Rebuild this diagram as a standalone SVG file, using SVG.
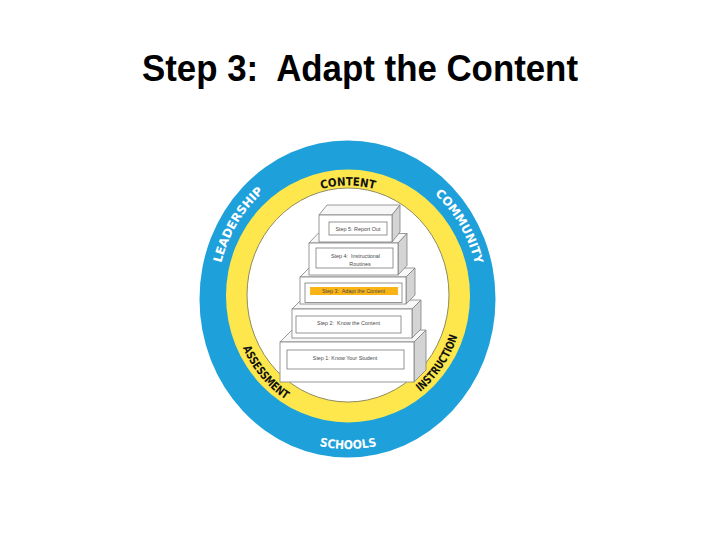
<svg xmlns="http://www.w3.org/2000/svg" width="720" height="540" viewBox="0 0 720 540">
<style>
.title{font-family:"Liberation Sans",Arial,sans-serif;font-weight:bold;font-size:37px;fill:#000}
.ringW{font-family:"DejaVu Sans",sans-serif;font-weight:bold;font-size:12px;fill:#fff}
.ringK{font-family:"DejaVu Sans",sans-serif;font-weight:bold;font-size:11.5px;fill:#111}
.face{fill:#fff;stroke:#808080;stroke-width:0.8}
.top{fill:#f7f7f7;stroke:#808080;stroke-width:0.8}
.side{fill:#d4d4d4;stroke:#808080;stroke-width:0.8}
.inner{fill:#fff;stroke:#7a7a7a;stroke-width:0.8}
.lbl{font-family:"Liberation Sans",Arial,sans-serif;font-size:5.4px;fill:#4a4a4a;text-anchor:middle}
</style>
<defs>
<path id="pLead" d="M222.7,338.5 A131,138.5 0 0,1 332.0,160.5"/>
<path id="pComm" d="M366.2,160.8 A131,138.5 0 0,1 472.6,340.8"/>
<path id="pCont" d="M265.7,225.7 A107.5,112.5 0 0,1 430.3,225.7"/>
<path id="pSch" d="M239.2,395.1 A142,151 0 0,0 456.8,395.1"/>
<path id="pAss" d="M233.6,281.2 A115.5,120.5 0 0,0 350.0,418.5"/>
<path id="pIns" d="M357.1,418.1 A115.5,120.5 0 0,0 459.8,267.8"/>
</defs>
<rect width="720" height="540" fill="#fff"/>
<text id="title" class="title" x="142" y="81" textLength="436" lengthAdjust="spacingAndGlyphs" xml:space="preserve">Step 3:  Adapt the Content</text>

<g id="rings">
<ellipse cx="347.5" cy="299" rx="148" ry="158.5" fill="#1ea0db"/>
<ellipse cx="348" cy="296" rx="122" ry="126.5" fill="#fde74c"/>
<ellipse cx="348" cy="295" rx="101" ry="107" fill="#fff" stroke="#8f8a60" stroke-width="1"/>
</g>

<g id="ring-labels">
<text class="ringW"><textPath href="#pLead" startOffset="50%" text-anchor="middle" textLength="84" lengthAdjust="spacingAndGlyphs">LEADERSHIP</textPath></text>
<text class="ringW"><textPath href="#pComm" startOffset="50%" text-anchor="middle" textLength="82" lengthAdjust="spacingAndGlyphs">COMMUNITY</textPath></text>
<text class="ringW"><textPath href="#pSch" startOffset="50%" text-anchor="middle" textLength="58" lengthAdjust="spacingAndGlyphs">SCHOOLS</textPath></text>
<text class="ringK"><textPath href="#pCont" startOffset="50%" text-anchor="middle" textLength="54" lengthAdjust="spacingAndGlyphs">CONTENT</textPath></text>
<text class="ringK"><textPath href="#pAss" startOffset="50%" text-anchor="middle" textLength="68" lengthAdjust="spacingAndGlyphs">ASSESSMENT</textPath></text>
<text class="ringK"><textPath href="#pIns" startOffset="50%" text-anchor="middle" textLength="68" lengthAdjust="spacingAndGlyphs">INSTRUCTION</textPath></text>
</g>

<g id="step1">
<polygon class="top" points="280,342 292,330 426,330 414,342"/>
<polygon class="side" points="414,342 426,330 426,370 414,382"/>
<rect class="face" x="280" y="342" width="134" height="40"/>
<rect class="inner" x="287" y="350" width="117" height="19"/>
<text class="lbl" x="345" y="359.5">Step 1: Know Your Student</text>
</g>

<g id="step2">
<polygon class="top" points="292,309 301,300 421,300 412,309"/>
<polygon class="side" points="412,309 421,300 421,329 412,338"/>
<rect class="face" x="292" y="309" width="120" height="29"/>
<rect class="inner" x="296" y="316" width="105" height="17"/>
<text class="lbl" x="348.5" y="325" xml:space="preserve">Step 2:  Know the Content</text>
</g>

<g id="step3">
<polygon class="top" points="300,277 309,268 415,268 406,277"/>
<polygon class="side" points="406,277 415,268 415,295 406,304"/>
<rect class="face" x="300" y="277" width="106" height="27"/>
<rect class="inner" x="305" y="283" width="97" height="19.5"/>
<rect x="310" y="287" width="88" height="8" fill="#fbb416"/>
<text class="lbl" x="353.5" y="293" xml:space="preserve">Step 3:  Adapt the Content</text>
</g>

<g id="step4">
<polygon class="top" points="309,243 318,233.5 407,233.5 398,243"/>
<polygon class="side" points="398,243 407,233.5 407,265.5 398,275"/>
<rect class="face" x="309" y="243" width="89" height="32"/>
<rect class="inner" x="316" y="248" width="77" height="20"/>
<text class="lbl" x="355.5" y="258" xml:space="preserve">Step 4:  Instructional</text>
<text class="lbl" x="360" y="265.5">Routines</text>
</g>

<g id="step5">
<polygon class="top" points="319,215 327,205 400,205 392,215"/>
<polygon class="side" points="392,215 400,205 400,232 392,242"/>
<rect class="face" x="319" y="215" width="73" height="27"/>
<rect class="inner" x="329" y="222" width="58" height="13"/>
<text class="lbl" x="358" y="230.5">Step 5: Report Out</text>
</g>
</svg>
